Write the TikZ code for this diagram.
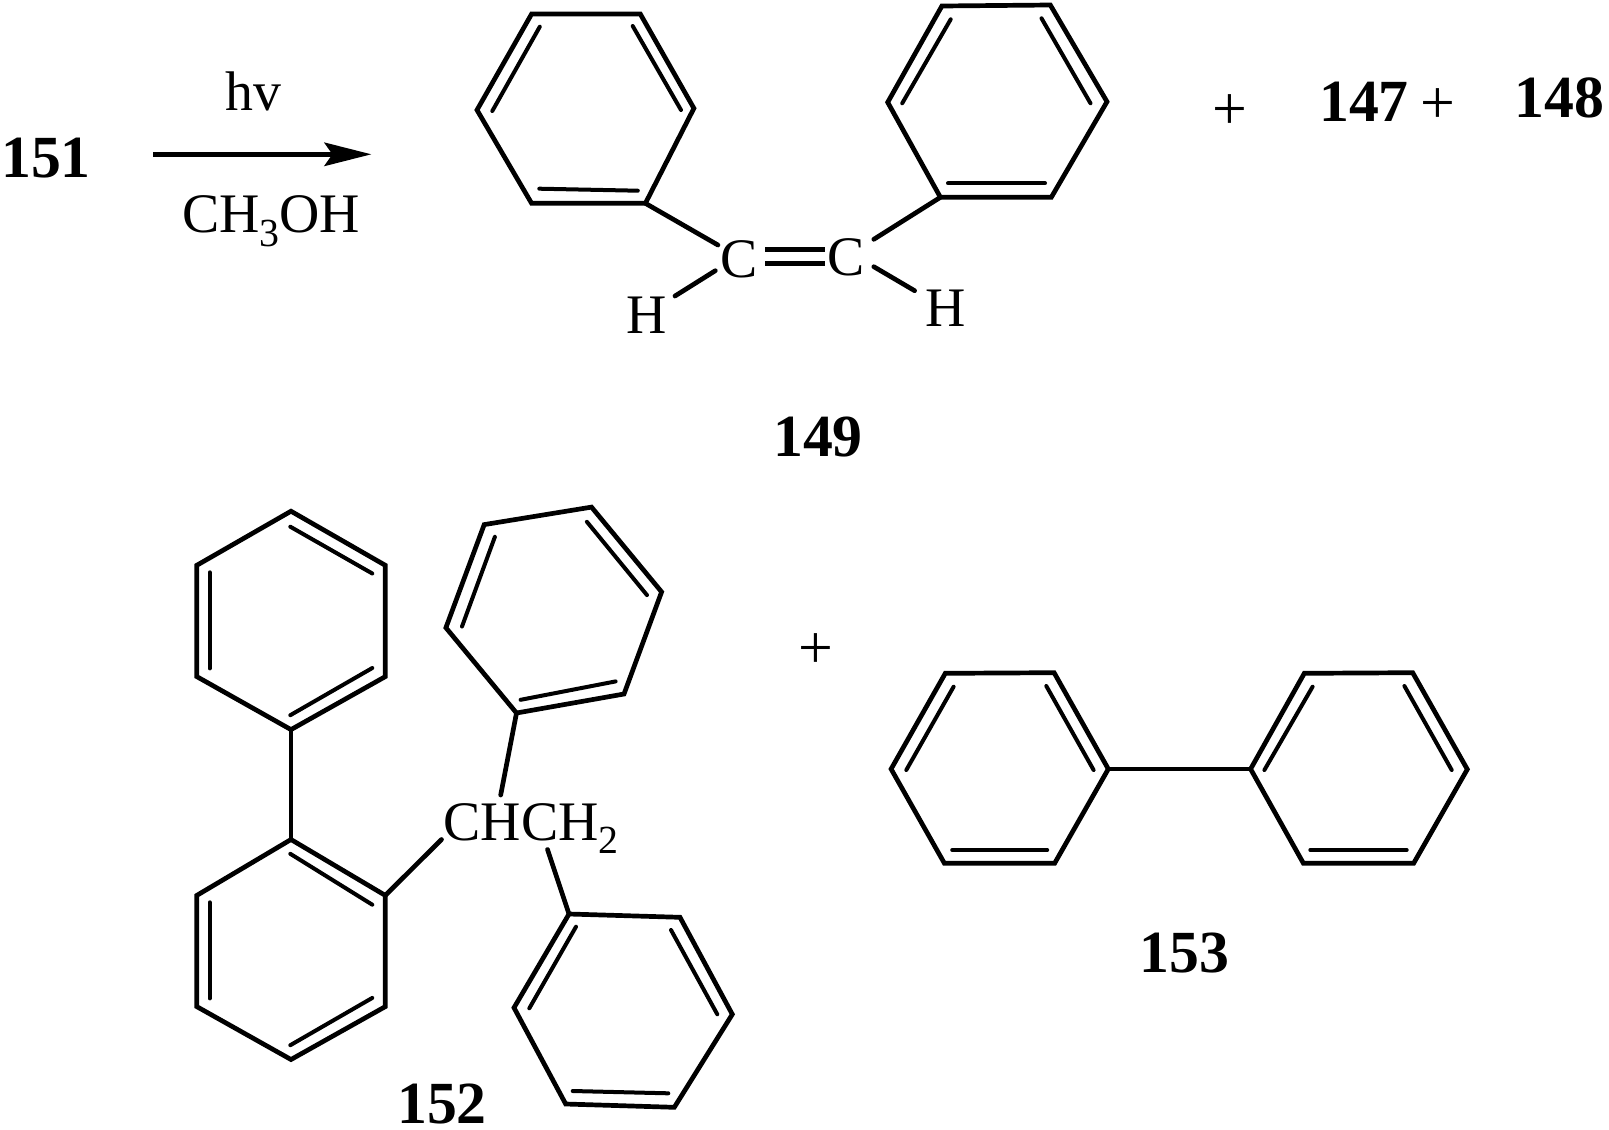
\documentclass[tikz,border=0pt]{standalone}
\usepackage{fontspec}
\setmainfont{Liberation Serif}
\usetikzlibrary{arrows.meta}
\tikzset{
  bond/.style={line width=4.7bp,line join=miter,line cap=round},
  inbond/.style={line width=4bp,line cap=round},
  atomlabel/.style={inner sep=0pt,outer sep=0pt,anchor=base,font=\fontsize{56}{60}\selectfont},
  pluslabel/.style={inner sep=0pt,outer sep=0pt,anchor=base,font=\fontsize{62}{66}\selectfont},
  numlabel/.style={inner sep=0pt,outer sep=0pt,anchor=base,font=\fontsize{60}{64}\selectfont\bfseries},
  rxnarrow/.style={line width=4.6bp,-{Stealth[length=47bp,width=23.4bp,inset=8bp]}}
}
\newcommand{\ringpts}[7]{%
  \coordinate (#1a) at #2; \coordinate (#1b) at #3; \coordinate (#1c) at #4;
  \coordinate (#1d) at #5; \coordinate (#1e) at #6; \coordinate (#1f) at #7;
  \draw[bond] (#1a) -- (#1b) -- (#1c) -- (#1d) -- (#1e) -- (#1f) -- cycle;}
\newcommand{\innerbonds}[6]{%
  \draw[inbond] #1 -- #2; \draw[inbond] #3 -- #4; \draw[inbond] #5 -- #6;}
\newcommand{\subdigit}[1]{\raisebox{-13.5bp}{\fontsize{40}{44}\selectfont #1}}
\begin{document}
\begin{tikzpicture}[x=1bp,y=-1bp]
\useasboundingbox (0,0) rectangle (1609,1129);
% labels
\node[numlabel] (n151) at (46,177) {151};
\node[atomlabel] (hv) at (253.6,110.7) {hv};
\node[atomlabel] (meoh) at (271.2,232.7) {CH\subdigit{3}OH};
\coordinate (arrowstart) at (153,154.3);
\coordinate (arrowend) at (371.4,154.3);
\draw[rxnarrow] (arrowstart) -- (arrowend);
% 149
\ringpts{A}{(531.6,14)}{(640.3,14)}{(693.9,108.3)}{(645.4,203.3)}{(531.6,203.3)}{(477,110)}
\innerbonds{(539.8,26.7)}{(492.3,111)}{(632.7,26)}{(681,110)}{(539.3,188.7)}{(637.8,190.7)}
\ringpts{B}{(941.9,6)}{(1050.3,5)}{(1107,101.7)}{(1051.3,197.3)}{(940.4,197.3)}{(887.7,102.3)}
\innerbonds{(950.7,19.3)}{(902.2,103.3)}{(1041.5,18.3)}{(1090.5,103.3)}{(948,183.3)}{(1045,183.3)}
\node[atomlabel] (cl) at (738.8,277.6) {C};
\node[atomlabel] (cr) at (846.4,275) {C};
\node[atomlabel] (hl) at (646.4,333.3) {H};
\node[atomlabel] (hr) at (946,326.7) {H};
\coordinate (cl1) at (717.9,245);
\coordinate (cl2) at (715.3,270.7);
\coordinate (hl1) at (675,296);
\coordinate (cr1) at (873.8,239.3);
\coordinate (cr2) at (873.8,266.7);
\coordinate (hr1) at (914.6,290.7);
\coordinate (da1) at (765.3,249.3);
\coordinate (da2) at (824.8,249.3);
\coordinate (db1) at (765.3,263.3);
\coordinate (db2) at (824.8,263.3);
\draw[bond] (Ad) -- (cl1);
\draw[bond] (cl2) -- (hl1);
\draw[bond] (Be) -- (cr1);
\draw[bond] (cr2) -- (hr1);
\draw[bond,line cap=butt] (da1) -- (da2);
\draw[bond,line cap=butt] (db1) -- (db2);
\node[pluslabel] (plus1) at (1229.8,129) {+};
\node[numlabel] (n147) at (1364,121.5) {147};
\node[pluslabel] (plus2) at (1438.3,123) {+};
\node[numlabel] (n148) at (1559.5,117.5) {148};
\node[numlabel] (n149) at (818,456.7) {149};
% 152
\ringpts{C}{(291,511.2)}{(385.3,565.3)}{(385.3,676.6)}{(291,729.6)}{(196.8,676.6)}{(196.8,565.3)}
\innerbonds{(290.3,526.7)}{(372.3,573.5)}{(209.8,572.3)}{(209.8,668.4)}{(290.3,715.2)}{(372.3,668)}
\ringpts{D}{(291,839.5)}{(385.3,895.4)}{(385.3,1006.6)}{(291,1059.5)}{(196.8,1006.6)}{(196.8,895.4)}
\innerbonds{(290.3,853.8)}{(372.3,904.7)}{(209.8,902.3)}{(209.8,998.4)}{(290.3,1045.2)}{(372.3,997.9)}
\draw[bond] (Cd) -- (Da);
\ringpts{E}{(516.5,713)}{(445.9,627.7)}{(484.2,524.6)}{(591.5,507.1)}{(661.6,591.9)}{(624,694)}
\innerbonds{(494.9,536.8)}{(462,626.5)}{(586.9,521.8)}{(647,595.1)}{(520.6,699.8)}{(615.6,681.4)}
\ringpts{F}{(569,914)}{(680,917.3)}{(732.3,1014.3)}{(674.3,1107.3)}{(565.7,1104)}{(514,1007.7)}
\innerbonds{(576,926.7)}{(529.3,1008.3)}{(671,930)}{(717.3,1014.3)}{(572.7,1091)}{(668.3,1093.3)}
\node[atomlabel] (chch) at (531,840) {CHCH\subdigit{2}};
\coordinate (ch1) at (441.5,839.5);
\coordinate (ch2) at (500.7,795);
\coordinate (ch3) at (547.5,849.5);
\draw[bond] (Db) -- (ch1);
\draw[bond] (Ea) -- (ch2);
\draw[bond] (Fa) -- (ch3);
\node[numlabel] (n152) at (442,1123.5) {152};
\node[pluslabel] (plus3) at (815.8,668) {+};
% 153
\ringpts{G}{(945.3,673.3)}{(1054.1,672.7)}{(1108.3,769)}{(1054.6,863.3)}{(944.4,863.3)}{(891.1,769)}
\innerbonds{(953.6,686.7)}{(906.3,770)}{(1046.3,686)}{(1093.6,770)}{(952.2,850)}{(1047.2,850)}
\ringpts{H}{(1304.3,673.3)}{(1412.7,672.7)}{(1467.3,769.3)}{(1413.6,863.3)}{(1303.4,863.3)}{(1250.6,769)}
\innerbonds{(1312.6,686.7)}{(1264.4,770)}{(1404.4,686)}{(1451.7,770)}{(1310.3,850)}{(1406.7,850)}
\draw[bond] (Gc) -- (Hf);
\node[numlabel] (n153) at (1184.5,972.7) {153};
\end{tikzpicture}
\end{document}
